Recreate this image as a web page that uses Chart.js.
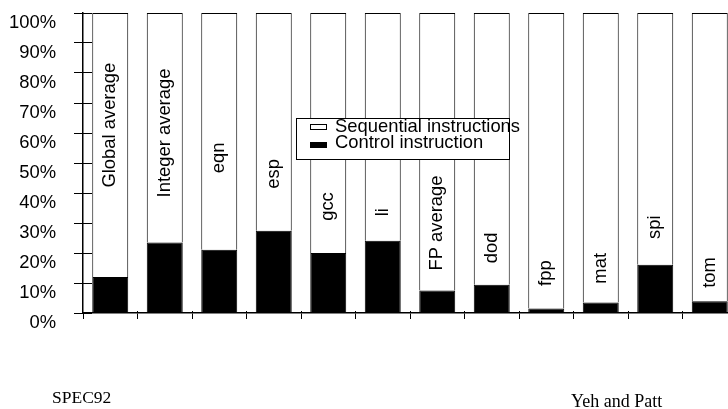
<!DOCTYPE html>
<html>
<head>
<meta charset="utf-8">
<script src="https://cdn.jsdelivr.net/npm/chart.js@4"></script>
<style>
  html, body { margin: 0; padding: 0; width: 728px; height: 409px; overflow: hidden; background: #fff; }
  #wrap { position: relative; width: 728px; height: 409px; overflow: hidden; }
  canvas { position: absolute; left: 0; top: 0; }
  .note { position: absolute; font-family: "Liberation Serif", "Times New Roman", serif; line-height: 1; color: #000; white-space: nowrap; }
</style>
</head>
<body>
<div id="wrap">
  <canvas id="chart" width="737" height="409"></canvas>
  <div class="note" style="left:52px; top:389px; font-size:17.5px;">SPEC92</div>
  <div class="note" style="left:571px; top:392px; font-size:18px;">Yeh and Patt</div>
</div>
<script>
// Benchmarks (one bar each)
const categories = ['Global average', 'Integer average', 'eqn', 'esp', 'gcc', 'li',
                    'FP average', 'dod', 'fpp', 'mat', 'spi', 'tom'];

// Share of control instructions (black part, %)
const controlPct = [12.0, 23.5, 21.1, 27.4, 20.0, 24.1, 7.5, 9.4, 1.5, 3.5, 16.1, 3.9];

// Share of sequential instructions (white part, %)
const sequentialPct = [88.0, 76.5, 78.9, 72.6, 80.0, 75.9, 92.5, 90.6, 98.5, 96.5, 83.9, 96.1];

// Y tick labels
const yTickLabels = ['0%', '10%', '20%', '30%', '40%', '50%', '60%', '70%', '80%', '90%', '100%'];

// Height (in % of the axis) where each bar name sits
const nameAt = [62.6, 60.0, 51.7, 46.4, 35.5, 33.6, 30.0, 21.7, 13.3, 14.9, 28.6, 13.5];

const sansFont = '"Liberation Sans", Arial, sans-serif';
const textSize = 18.4;

// Small ticks going into the plot area, like the original
const innerTicks = {
  id: 'innerTicks',
  beforeDatasetsDraw(chart) {
    const { ctx, chartArea } = chart;
    const x = chart.scales.x;
    const y = chart.scales.y;
    ctx.save();
    ctx.strokeStyle = '#000';
    ctx.lineWidth = 1;
    ctx.beginPath();
    y.ticks.forEach(t => {
      const py = Math.round(y.getPixelForValue(t.value) - 0.5) + 0.5;
      ctx.moveTo(chartArea.left, py);
      ctx.lineTo(chartArea.left + 9, py);
    });
    for (let i = 1; i < categories.length; i++) {
      const px = Math.round(x.getPixelForValue(i - 0.5) - 0.5) + 0.5;
      ctx.moveTo(px, chartArea.bottom);
      ctx.lineTo(px, chartArea.bottom - 2);
    }
    ctx.stroke();
    ctx.restore();
  }
};

// Bar names written vertically inside the bars
const barNames = {
  id: 'barNames',
  afterDatasetsDraw(chart) {
    const ctx = chart.ctx;
    const y = chart.scales.y;
    const bars = chart.getDatasetMeta(0).data;
    ctx.save();
    ctx.fillStyle = '#000';
    ctx.font = textSize + 'px ' + sansFont;
    ctx.textAlign = 'center';
    ctx.textBaseline = 'middle';
    bars.forEach((bar, i) => {
      ctx.save();
      ctx.translate(bar.x, y.getPixelForValue(nameAt[i]));
      ctx.rotate(-Math.PI / 2);
      ctx.fillText(categories[i], 0, 0);
      ctx.restore();
    });
    ctx.restore();
  }
};

// Legend in a white box with a frame, over the bars
const boxedLegend = {
  id: 'boxedLegend',
  afterDatasetsDraw(chart) {
    const ctx = chart.ctx;
    ctx.save();
    ctx.fillStyle = '#fff';
    ctx.fillRect(296, 118, 214, 42);
    ctx.strokeStyle = '#000';
    ctx.lineWidth = 1;
    ctx.strokeRect(296.5, 118.5, 213, 41);
    ctx.font = textSize + 'px ' + sansFont;
    ctx.textBaseline = 'middle';
    const items = chart.data.datasets.slice().reverse();
    items.forEach((ds, i) => {
      const cy = 126.5 + i * 16;
      const sy = i === 0 ? 124 : 142;
      ctx.fillStyle = ds.backgroundColor;
      ctx.fillRect(310, sy, 17, 6);
      ctx.strokeRect(310.5, sy + 0.5, 16, 5);
      ctx.fillStyle = '#000';
      ctx.fillText(ds.label, 335, cy);
    });
    ctx.restore();
  }
};

new Chart(document.getElementById('chart'), {
  type: 'bar',
  data: {
    labels: categories,
    datasets: [
      { label: 'Control instruction', data: controlPct, backgroundColor: '#000', borderColor: '#000', borderWidth: 1 },
      { label: 'Sequential instructions', data: sequentialPct, backgroundColor: '#fff', borderColor: '#000', borderWidth: 1 }
    ]
  },
  options: {
    responsive: false,
    animation: false,
    layout: { padding: { top: 13, bottom: 90, left: 0, right: 0 } },
    datasets: { bar: { barPercentage: 0.66, categoryPercentage: 1 } },
    plugins: {
      legend: { display: false },
      tooltip: { enabled: false }
    },
    scales: {
      x: {
        stacked: true,
        ticks: { display: false },
        grid: { drawOnChartArea: false, tickLength: 6, color: '#000', lineWidth: 1 },
        border: { color: '#000', width: 1.5 }
      },
      y: {
        stacked: true,
        min: 0,
        max: 100,
        afterFit: s => {
          // fixed axis width, and no extra room above / below for the labels
          s.width = 83;
          s.paddingTop = 0;
          s.paddingBottom = 0;
        },
        ticks: {
          stepSize: 10,
          callback: (v, i) => yTickLabels[i],
          color: '#000',
          font: { family: sansFont, size: textSize },
          padding: 18,
          labelOffset: 10
        },
        grid: { drawOnChartArea: false, tickLength: 9, color: '#000', lineWidth: 1 },
        border: { color: '#000', width: 1.5 }
      }
    }
  },
  plugins: [innerTicks, barNames, boxedLegend]
});
</script>
</body>
</html>
